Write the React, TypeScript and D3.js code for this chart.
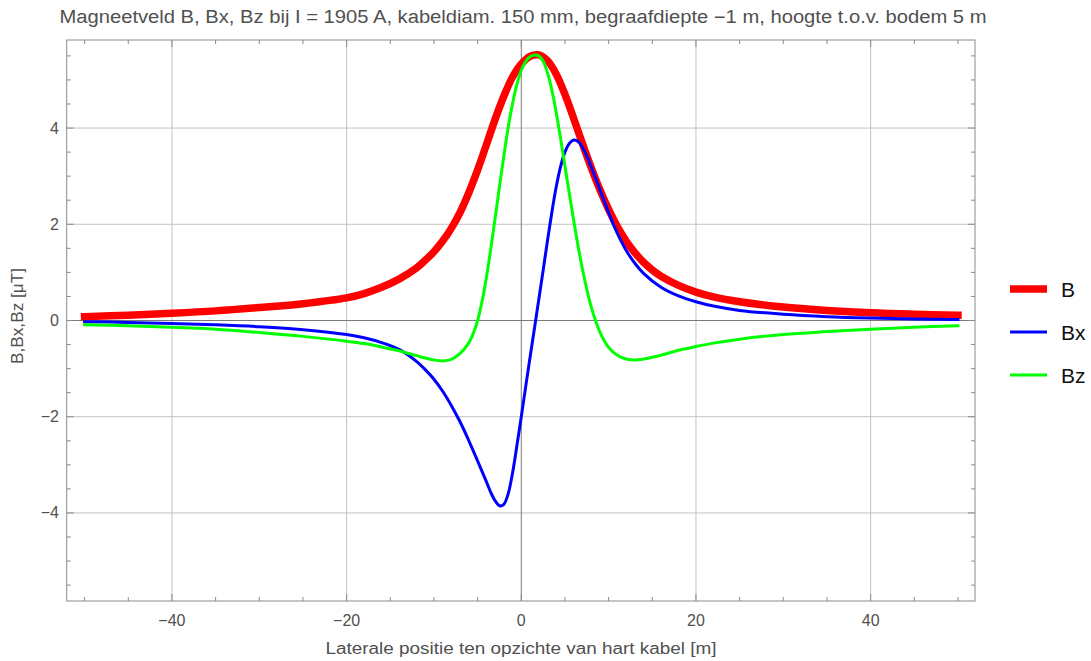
import React from "react";
import * as d3 from "d3";

const titleText =
  "Magneetveld B, Bx, Bz bij I = 1905 A, kabeldiam. 150 mm, begraafdiepte \u22121 m, hoogte t.o.v. bodem 5 m";
const xAxisLabel = "Laterale positie ten opzichte van hart kabel [m]";
const yAxisLabel = "B,Bx,Bz [\u03bcT]";

const seriesNames = ["B", "Bx", "Bz"];
const seriesColors = ["#ff0000", "#0000ff", "#00ff00"];
const seriesWidths = [7.5, 3, 3];

const xTickValues = [-40, -20, 0, 20, 40];
const yTickValues = [-4, -2, 0, 2, 4];

// B (red)
const bPosX = [-50, -45, -40, -35, -30, -25, -20, -18, -16, -14, -12, -11, -10, -9, -8, -7, -6, -5, -4, -3, -2, -1, 0, 1, 2, 3, 4, 5, 6, 7, 8, 9, 10, 11, 12, 13, 14, 15, 16, 18, 20, 22, 25, 30, 35, 40, 45, 50];
const bVals = [0.08, 0.11, 0.15, 0.2, 0.27, 0.35, 0.47, 0.56, 0.69, 0.86, 1.09, 1.25, 1.43, 1.65, 1.92, 2.25, 2.66, 3.13, 3.65, 4.18, 4.66, 5.06, 5.33, 5.49, 5.52, 5.4, 5.12, 4.7, 4.2, 3.68, 3.18, 2.72, 2.31, 1.95, 1.65, 1.41, 1.21, 1.05, 0.92, 0.73, 0.59, 0.49, 0.39, 0.28, 0.21, 0.16, 0.13, 0.11];

// Bx (blue)
const bxPosX = [-50, -45, -40, -35, -30, -25, -20, -18, -16, -14, -13, -12, -11, -10, -9, -8, -7, -6, -5, -4, -3.5, -3, -2.5, -2, -1.5, -1, -0.5, 0, 0.5, 1, 1.5, 2, 2.5, 3, 3.5, 4, 4.5, 5, 5.5, 6, 6.5, 7, 7.5, 8, 9, 10, 11, 12, 13, 14, 16, 18, 20, 22, 25, 30, 35, 40, 45, 50];
const bxVals = [-0.025, -0.04, -0.06, -0.09, -0.13, -0.19, -0.29, -0.36, -0.46, -0.6, -0.71, -0.85, -1.02, -1.22, -1.47, -1.77, -2.11, -2.5, -2.92, -3.35, -3.57, -3.745, -3.85, -3.82, -3.6, -3.17, -2.6, -2.0, -1.38, -0.77, -0.17, 0.43, 1.04, 1.66, 2.25, 2.78, 3.2, 3.5, 3.68, 3.75, 3.72, 3.6, 3.42, 3.2, 2.72, 2.24, 1.81, 1.46, 1.19, 0.98, 0.69, 0.51, 0.39, 0.3, 0.21, 0.13, 0.08, 0.05, 0.03, 0.02];

// Bz (green)
const bzPosX = [-50, -45, -40, -35, -30, -25, -20, -18, -16, -14, -13, -12, -11, -10, -9, -8, -7, -6, -5.5, -5, -4.5, -4, -3.5, -3, -2.5, -2, -1.5, -1, -0.5, 0, 0.5, 1, 1.5, 2, 2.5, 3, 3.5, 4, 4.5, 5, 5.5, 6, 6.5, 7, 7.5, 8, 8.5, 9, 9.5, 10, 11, 12, 13, 14, 15, 16, 18, 20, 22, 25, 30, 35, 40, 45, 50];
const bzVals = [-0.09, -0.11, -0.14, -0.18, -0.25, -0.33, -0.43, -0.48, -0.55, -0.63, -0.68, -0.73, -0.78, -0.82, -0.84, -0.81, -0.685, -0.46, -0.27, 0.0, 0.39, 0.89, 1.48, 2.12, 2.78, 3.42, 4.01, 4.51, 4.91, 5.2, 5.38, 5.48, 5.52, 5.5, 5.39, 5.15, 4.79, 4.32, 3.78, 3.21, 2.64, 2.08, 1.55, 1.07, 0.65, 0.29, 0.0, -0.24, -0.42, -0.56, -0.72, -0.8, -0.82, -0.8, -0.765, -0.72, -0.62, -0.54, -0.47, -0.39, -0.29, -0.23, -0.18, -0.14, -0.11];

const W = 1091;
const H = 661;
const plotLeft = 66.7;
const plotRight = 975;
const plotTop = 40;
const plotBottom = 601;

export default function App() {
  const x = d3.scaleLinear().domain([-52.05, 51.95]).range([plotLeft, plotRight]);
  const y = d3.scaleLinear().domain([-5.83, 5.83]).range([plotBottom, plotTop]);

  const series = [
    { name: seriesNames[0], xs: bPosX, ys: bVals },
    { name: seriesNames[1], xs: bxPosX, ys: bxVals },
    { name: seriesNames[2], xs: bzPosX, ys: bzVals },
  ];

  const line = d3
    .line<[number, number]>()
    .x((d) => x(d[0]))
    .y((d) => y(d[1]))
    .curve(d3.curveCatmullRom.alpha(0.5));

  const xMinor = d3.range(-50, 50.01, 5);
  const yMinor = d3.range(-5.5, 5.51, 0.5);
  const fmt = (v: number) => (v < 0 ? "\u2212" + Math.abs(v) : String(v));

  const font = "'Liberation Sans', Arial, sans-serif";
  const labelColor = "#505050";
  const frameColor = "#8a8a8a";

  return (
    <svg
      width={W}
      height={H}
      style={{ position: "absolute", left: 0, top: 0, background: "#fff" }}
      fontFamily={font}
    >
      <rect x={0} y={0} width={W} height={H} fill="#ffffff" />
      {/* grid */}
      {xTickValues
        .filter((v) => v !== 0)
        .map((v) => (
          <line key={"gx" + v} x1={x(v)} x2={x(v)} y1={plotTop} y2={plotBottom} stroke="#c2c2c2" strokeWidth={1} />
        ))}
      {yTickValues
        .filter((v) => v !== 0)
        .map((v) => (
          <line key={"gy" + v} x1={plotLeft} x2={plotRight} y1={y(v)} y2={y(v)} stroke="#c2c2c2" strokeWidth={1} />
        ))}
      {/* axes at zero */}
      <line x1={x(0)} x2={x(0)} y1={plotTop} y2={plotBottom} stroke="#7a7a7a" strokeWidth={1} />
      <line x1={plotLeft} x2={plotRight} y1={y(0)} y2={y(0)} stroke="#7a7a7a" strokeWidth={1} />

      {/* ticks */}
      {xMinor.map((v) => {
        const major = Math.abs(v % 20) < 1e-9;
        const len = major ? 7 : 4;
        return (
          <g key={"tx" + v}>
            <line x1={x(v)} x2={x(v)} y1={plotBottom} y2={plotBottom - len} stroke={frameColor} />
            <line x1={x(v)} x2={x(v)} y1={plotTop} y2={plotTop + len} stroke={frameColor} />
          </g>
        );
      })}
      {yMinor.map((v) => {
        const major = Math.abs(v % 2) < 1e-9;
        const len = major ? 7 : 4;
        return (
          <g key={"ty" + v}>
            <line x1={plotLeft} x2={plotLeft + len} y1={y(v)} y2={y(v)} stroke={frameColor} />
            <line x1={plotRight} x2={plotRight - len} y1={y(v)} y2={y(v)} stroke={frameColor} />
          </g>
        );
      })}

      {/* series */}
      {series.map((s, i) => (
        <path
          key={s.name}
          d={line(s.xs.map((v, j) => [v, s.ys[j]] as [number, number])) || ""}
          fill="none"
          stroke={seriesColors[i]}
          strokeWidth={seriesWidths[i]}
          strokeLinecap="square"
          strokeLinejoin="round"
        />
      ))}

      {/* frame */}
      <rect
        x={plotLeft}
        y={plotTop}
        width={plotRight - plotLeft}
        height={plotBottom - plotTop}
        fill="none"
        stroke={frameColor}
        strokeWidth={1}
      />

      {/* tick labels */}
      {xTickValues.map((v) => (
        <text key={"lx" + v} x={x(v)} y={626} textAnchor="middle" fontSize={16} fill={labelColor}>
          {fmt(v)}
        </text>
      ))}
      {yTickValues.map((v) => (
        <text key={"ly" + v} x={59} y={y(v) + 5.5} textAnchor="end" fontSize={16} fill={labelColor}>
          {fmt(v)}
        </text>
      ))}

      {/* axis labels */}
      <text x={521} y={654} textAnchor="middle" fontSize={16} fill={labelColor} textLength={391} lengthAdjust="spacingAndGlyphs">
        {xAxisLabel}
      </text>
      <text
        transform={`translate(23, ${316}) rotate(-90)`}
        textAnchor="middle"
        fontSize={16}
        fill={labelColor}
        textLength={96}
        lengthAdjust="spacingAndGlyphs"
      >
        {yAxisLabel}
      </text>

      {/* title */}
      <text x={523} y={23} textAnchor="middle" fontSize={18} fill={labelColor} textLength={927} lengthAdjust="spacingAndGlyphs">
        {titleText}
      </text>

      {/* legend */}
      {seriesNames.map((n, i) => {
        const ly = 289 + i * 43;
        return (
          <g key={"leg" + n}>
            <line x1={1010} x2={1047} y1={ly} y2={ly} stroke={seriesColors[i]} strokeWidth={seriesWidths[i]} />
            <text x={1061} y={ly + 7.5} fontSize={21} fill="#111">
              {n}
            </text>
          </g>
        );
      })}
    </svg>
  );
}
